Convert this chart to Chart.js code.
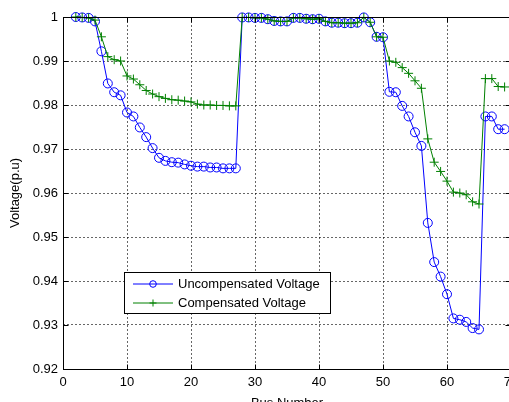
<!DOCTYPE html>
<html lang="en">
<head>
    <meta charset="UTF-8">
    <title>Bus Voltage Profile</title>
    <style>
        body {
            margin: 0;
            background: #fff;
            overflow: hidden;
        }
        .chart-box {
            width: 509px;
            height: 402px;
            overflow: hidden;
        }
    </style>
    <script src="https://cdn.jsdelivr.net/npm/chart.js"></script>
</head>
<body>
    <div class="chart-box">
        <canvas id="voltageChart" width="530" height="402"></canvas>
    </div>

    <script>
        // Bus numbers 2..69
        const busNumbers = [
            2, 3, 4, 5, 6, 7, 8, 9, 10, 11, 12, 13, 14, 15, 16, 17, 18, 19, 20, 21,
            22, 23, 24, 25, 26, 27, 28, 29, 30, 31, 32, 33, 34, 35, 36, 37, 38, 39, 40, 41,
            42, 43, 44, 45, 46, 47, 48, 49, 50, 51, 52, 53, 54, 55, 56, 57, 58, 59, 60, 61,
            62, 63, 64, 65, 66, 67, 68, 69
        ];

        const uncompensated = [
            1.0000, 0.9999, 0.9998, 0.9990, 0.9922, 0.9849, 0.9829, 0.9822, 0.9783, 0.9774,
            0.9749, 0.9727, 0.9702, 0.9680, 0.9673, 0.9670, 0.9669, 0.9665, 0.9662, 0.9660,
            0.9660, 0.9658, 0.9658, 0.9656, 0.9656, 0.9656,
            0.9999, 0.9999, 0.9998, 0.9998, 0.9995, 0.9991, 0.9990, 0.9990, 0.9998, 0.9998,
            0.9996, 0.9995, 0.9996, 0.9990, 0.9987, 0.9987, 0.9986, 0.9986, 0.9987, 0.9999,
            0.9988, 0.9955, 0.9954, 0.9830, 0.9829, 0.9798, 0.9774, 0.9738, 0.9707, 0.9532,
            0.9443, 0.9410, 0.9370, 0.9315, 0.9312, 0.9307, 0.9293, 0.9290, 0.9774, 0.9774,
            0.9745, 0.9745
        ];

        const compensated = [
            1.0000, 0.9999, 0.9998, 0.9993, 0.9955, 0.9910, 0.9903, 0.9900, 0.9866, 0.9859,
            0.9846, 0.9833, 0.9825, 0.9819, 0.9815, 0.9812, 0.9811, 0.9809, 0.9807, 0.9802,
            0.9800, 0.9800, 0.9799, 0.9799, 0.9798, 0.9798,
            0.9999, 0.9999, 0.9998, 0.9998, 0.9995, 0.9991, 0.9990, 0.9990, 0.9998, 0.9998,
            0.9996, 0.9995, 0.9996, 0.9990, 0.9987, 0.9987, 0.9986, 0.9986, 0.9987, 0.9999,
            0.9988, 0.9955, 0.9954, 0.9900, 0.9897, 0.9885, 0.9872, 0.9855, 0.9838, 0.9723,
            0.9670, 0.9649, 0.9627, 0.9602, 0.9600, 0.9596, 0.9580, 0.9575, 0.9860, 0.9860,
            0.9842, 0.9841
        ];

        const xTicks = [0, 10, 20, 30, 40, 50, 60, 70];
        const yTicks = [0.92, 0.93, 0.94, 0.95, 0.96, 0.97, 0.98, 0.99, 1];

        const FONT = '"Liberation Sans", Arial, sans-serif';

        function toPoints(values) {
            return values.map((v, i) => ({ x: busNumbers[i], y: v }));
        }

        // MATLAB-style box, inward ticks and legend inside the plot
        const matlabFrame = {
            id: 'matlabFrame',
            afterDraw(chart) {
                const { ctx, chartArea: a, scales } = chart;
                const L = Math.round(a.left) + 0.5;
                const R = Math.round(a.right) - 0.5;
                const T = Math.round(a.top) + 0.5;
                const B = Math.round(a.bottom) + 0.5;
                ctx.save();
                ctx.strokeStyle = '#000';
                ctx.lineWidth = 1;
                ctx.strokeRect(L, T, R - L, B - T);

                ctx.beginPath();
                xTicks.forEach(t => {
                    const px = Math.round(scales.x.getPixelForValue(t)) + 0.5;
                    ctx.moveTo(px, B); ctx.lineTo(px, B - 5);
                    ctx.moveTo(px, T); ctx.lineTo(px, T + 5);
                });
                yTicks.forEach(t => {
                    const py = Math.round(scales.y.getPixelForValue(t)) + 0.5;
                    ctx.moveTo(L, py); ctx.lineTo(L + 5, py);
                    ctx.moveTo(R, py); ctx.lineTo(R - 5, py);
                });
                ctx.stroke();

                // legend
                const bx = 124.5, by = 272.5, bw = 206, bh = 41;
                ctx.fillStyle = '#fff';
                ctx.fillRect(bx, by, bw, bh);
                ctx.strokeRect(bx, by, bw, bh);
                ctx.font = '13px ' + FONT;
                ctx.textBaseline = 'middle';
                const rows = [by + 11.5, by + 30.5];
                chart.data.datasets.forEach((ds, i) => {
                    const y = rows[i];
                    ctx.strokeStyle = ds.borderColor;
                    ctx.beginPath();
                    ctx.moveTo(133, y); ctx.lineTo(173, y);
                    ctx.stroke();
                    ctx.beginPath();
                    if (ds.pointStyle === 'circle') {
                        ctx.arc(153, y, 3.3, 0, Math.PI * 2);
                    } else {
                        ctx.moveTo(149.5, y); ctx.lineTo(156.5, y);
                        ctx.moveTo(153, y - 3.5); ctx.lineTo(153, y + 3.5);
                    }
                    ctx.stroke();
                    ctx.fillStyle = '#000';
                    ctx.fillText(ds.label, 178, y + 0.5);
                });
                ctx.restore();
            }
        };

        const ctx = document.getElementById('voltageChart').getContext('2d');
        const chart = new Chart(ctx, {
            type: 'line',
            data: {
                datasets: [
                    {
                        label: 'Uncompensated Voltage',
                        data: toPoints(uncompensated),
                        borderColor: '#0000ff',
                        borderWidth: 1,
                        pointStyle: 'circle',
                        pointRadius: 4.5,
                        pointBorderWidth: 1,
                        pointBorderColor: '#0000ff',
                        pointBackgroundColor: 'rgba(0,0,0,0)',
                        tension: 0,
                        clip: false,
                        order: 1
                    },
                    {
                        label: 'Compensated Voltage',
                        data: toPoints(compensated),
                        borderColor: '#008000',
                        borderWidth: 1,
                        pointStyle: 'cross',
                        pointRadius: 4.5,
                        pointBorderWidth: 1,
                        pointBorderColor: '#008000',
                        pointBackgroundColor: '#008000',
                        tension: 0,
                        clip: false,
                        order: 0
                    }
                ]
            },
            options: {
                responsive: false,
                animation: false,
                events: [],
                layout: {
                    autoPadding: false,
                    padding: { top: 17, right: 19, left: 0, bottom: 0 }
                },
                plugins: {
                    legend: { display: false },
                    tooltip: { enabled: false }
                },
                scales: {
                    x: {
                        type: 'linear',
                        min: 0,
                        max: 70,
                        afterFit(scale) { scale.height = 33; },
                        afterBuildTicks(scale) { scale.ticks = xTicks.map(v => ({ value: v })); },
                        ticks: {
                            color: '#000',
                            padding: 6,
                            maxRotation: 0,
                            font: { family: FONT, size: 13 }
                        },
                        grid: {
                            color: 'rgba(0,0,0,0.6)',
                            drawTicks: false
                        },
                        border: { display: false, dash: [2, 2] },
                        title: {
                            display: true,
                            text: 'Bus Number',
                            color: '#000',
                            font: { family: FONT, size: 13 },
                            padding: { top: 0, bottom: -9 }
                        }
                    },
                    y: {
                        min: 0.92,
                        max: 1,
                        afterFit(scale) { scale.width = 63; },
                        afterBuildTicks(scale) { scale.ticks = yTicks.map(v => ({ value: v })); },
                        ticks: {
                            color: '#000',
                            padding: 5,
                            font: { family: FONT, size: 13 },
                            callback: v => (v === 1 ? '1' : v.toFixed(2))
                        },
                        grid: {
                            color: 'rgba(0,0,0,0.6)',
                            drawTicks: false
                        },
                        border: { display: false, dash: [2, 2] },
                        title: {
                            display: true,
                            text: 'Voltage(p.u)',
                            color: '#000',
                            font: { family: FONT, size: 13 },
                            padding: { top: 8, bottom: 0 }
                        }
                    }
                }
            },
            plugins: [matlabFrame]
        });
    </script>
</body>
</html>
